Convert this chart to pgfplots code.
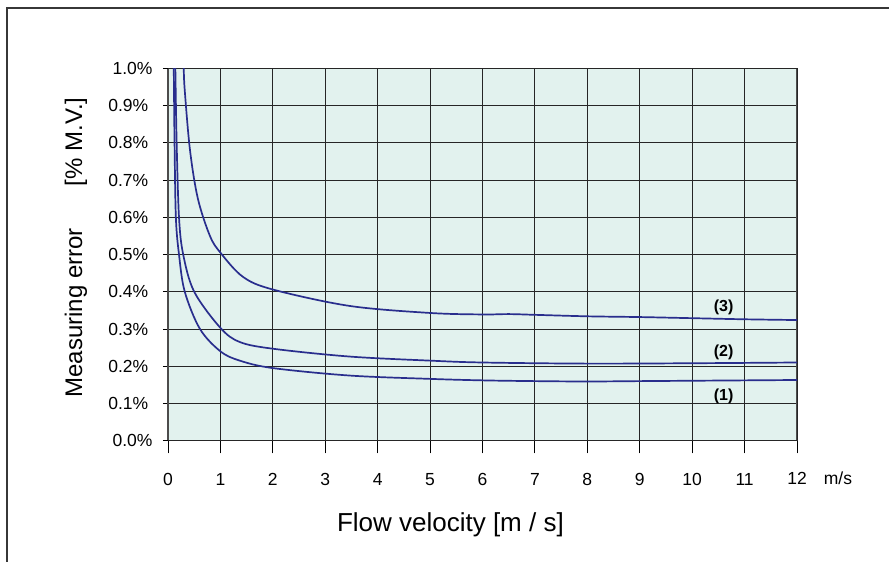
\documentclass[border=0pt]{standalone}
\usepackage{fontspec}
\setmainfont{Liberation Sans}
\usepackage{pgfplots}
\pgfplotsset{compat=1.18}
\definecolor{curveblue}{RGB}{41,46,141}
\definecolor{panel}{RGB}{226,242,238}
\definecolor{framegray}{RGB}{55,55,55}
\tikzset{errcurve/.style={curveblue, line width=1.7pt, smooth, tension=0.55, no marks}}
\begin{document}
\begin{tikzpicture}[x=1pt,y=1pt]
\path[use as bounding box] (-168,-121.3) rectangle (721,440.7);
\draw[framegray, line width=2pt] (-160.7,-122) -- (-160.7,432.4) -- (722,432.4);
\begin{axis}[
    at={(0,0)}, anchor=south west,
    scale only axis,
    width=629pt, height=372.4pt,
    xmin=0, xmax=12, ymin=0, ymax=1,
    xtick={0,...,11},
    ytick={0.1,0.2,0.3,0.4,0.5,0.6,0.7,0.8,0.9},
    extra x ticks={12},
    extra y ticks={0,1},
    extra tick style={/pgfplots/major tick length=0pt},
    extra x tick style={xticklabel style={yshift=-3pt}},
    tick align=outside,
    x tick style={/pgfplots/major tick length=12.6pt, black, line width=0.9pt},
    y tick style={/pgfplots/major tick length=5pt, black, line width=0.9pt},
    xtick pos=bottom, ytick pos=left,
    grid=major,
    major grid style={black!85, line width=0.9pt},
    axis line style={black!70, line width=1.4pt},
    axis background/.style={fill=panel},
    ticklabel style={font=\fontsize{17.5}{20}\selectfont},
    /pgf/number format/assume math mode=true,
    yticklabel={\pgfmathprintnumber[fixed,fixed zerofill,precision=1]{\tick}\%},
    yticklabel style={xshift=-12pt},
    xticklabel style={yshift=-25pt},
    xlabel={Flow velocity [m / s]},
    xlabel style={font=\fontsize{26}{28}\selectfont, at={(axis description cs:0.449,-0.2444)}, anchor=base},
    ylabel={Measuring error\hspace{42pt}[\% M.V.]},
    ylabel style={font=\fontsize{24}{28}\selectfont, at={(axis description cs:-0.1463,0.519)}, anchor=center},
    clip=true,
]
% (1)
\addplot[errcurve] coordinates {
(0.105,1.03) (0.11,1.0) (0.125,0.8) (0.15,0.6) (0.21,0.5) (0.32,0.4)
(0.61,0.3) (1.0,0.24) (1.37,0.215) (2,0.195) (3.46,0.175) (5,0.166) (6,0.162)
(7,0.16) (8,0.159) (9,0.16) (10,0.161) (11,0.162) (12,0.163)
};
% (2)
\addplot[errcurve] coordinates {
(0.135,1.03) (0.14,1.0) (0.165,0.8) (0.21,0.6) (0.29,0.5) (0.5,0.4)
(1.0,0.303) (1.37,0.265) (2,0.247) (3.46,0.226) (5,0.215) (6,0.21) (8,0.207)
(10,0.208) (12,0.21)
};
% (3)
\addplot[errcurve] coordinates {
(0.295,1.03) (0.30,1.0) (0.32,0.94) (0.42,0.78) (0.57,0.65) (0.8,0.55) (1.0,0.505)
(1.43,0.44) (2,0.406) (3.46,0.362) (5,0.343) (6,0.339) (6.5,0.340) (7,0.338)
(8,0.334) (9,0.332) (10,0.329) (11,0.326) (12,0.324)
};
\node[font=\bfseries\fontsize{16}{18}\selectfont] at (axis cs:10.6,0.358) {(3)};
\node[font=\bfseries\fontsize{16}{18}\selectfont] at (axis cs:10.6,0.236) {(2)};
\node[font=\bfseries\fontsize{16}{18}\selectfont] at (axis cs:10.6,0.118) {(1)};
\end{axis}
\node[font=\fontsize{17.5}{20}\selectfont] at (670,-37.3) {m/s};
\end{tikzpicture}
\end{document}
